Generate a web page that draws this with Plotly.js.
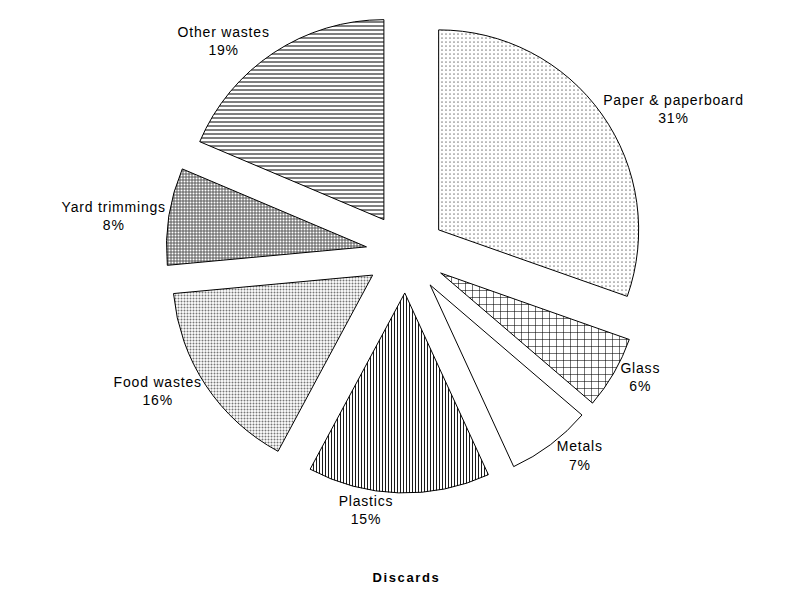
<!DOCTYPE html>
<html>
<head>
<meta charset="utf-8">
<script src="https://cdn.plot.ly/plotly-3.0.1.min.js"></script>
<style>
html,body{margin:0;padding:0;background:#fff;}
#chart .pielayer text{letter-spacing:0.8px;}
#chart .annotation-text{letter-spacing:1.6px;}
</style>
</head>
<body>
<div id="chart" style="width:801px;height:592px;"></div>
<script>
const categories = ["Paper & paperboard", "Glass", "Metals", "Plastics", "Food wastes", "Yard trimmings", "Other wastes"];
const shares = [31, 6, 7, 15, 16, 8, 19];
const patternShapes = [".", "+", "", "|", ".", ".", "-"];
const patternFg = ["#888888", "#000000", "#000000", "#000000", "#777777", "#ffffff", "#000000"];
const patternBg = ["#ffffff", "#ffffff", "#ffffff", "#ffffff", "#ffffff", "#777777", "#ffffff"];
const patternSize = [4, 7, 6, 3, 3, 3, 4];
const patternSolidity = [0.15, 0.15, 0.3, 0.3, 0.35, 0.35, 0.25];
const chartTitle = "Discards";

const labelTexts = categories.map((c, i) => c + "<br>" + shares[i] + "%");

const trace = {
  type: "pie",
  labels: categories,
  values: shares,
  text: labelTexts,
  textinfo: "text",
  textposition: "outside",
  hoverinfo: "text",
  sort: false,
  direction: "clockwise",
  rotation: 0,
  pull: categories.map(() => 0.2),
  showlegend: false,
  outsidetextfont: {family: "Liberation Sans, Arial, sans-serif", size: 14, color: "#000"},
  marker: {
    colors: patternBg,
    line: {color: "#000", width: 1},
    pattern: {
      shape: patternShapes,
      fgcolor: patternFg,
      bgcolor: patternBg,
      size: patternSize,
      solidity: patternSolidity,
      fillmode: "replace"
    }
  }
};

const layout = {
  width: 801,
  height: 592,
  margin: {l: 166, r: 155, t: 13, b: 99},
  paper_bgcolor: "#fff",
  plot_bgcolor: "#fff",
  showlegend: false,
  annotations: [{
    text: "<b>" + chartTitle + "</b>",
    xref: "paper", yref: "paper",
    x: 0.5, y: -0.175, xanchor: "center", yanchor: "middle",
    showarrow: false,
    font: {family: "Liberation Sans, Arial, sans-serif", size: 13, color: "#000"}
  }]
};

Plotly.newPlot("chart", [trace], layout, {displayModeBar: false, staticPlot: true});
</script>
</body>
</html>
